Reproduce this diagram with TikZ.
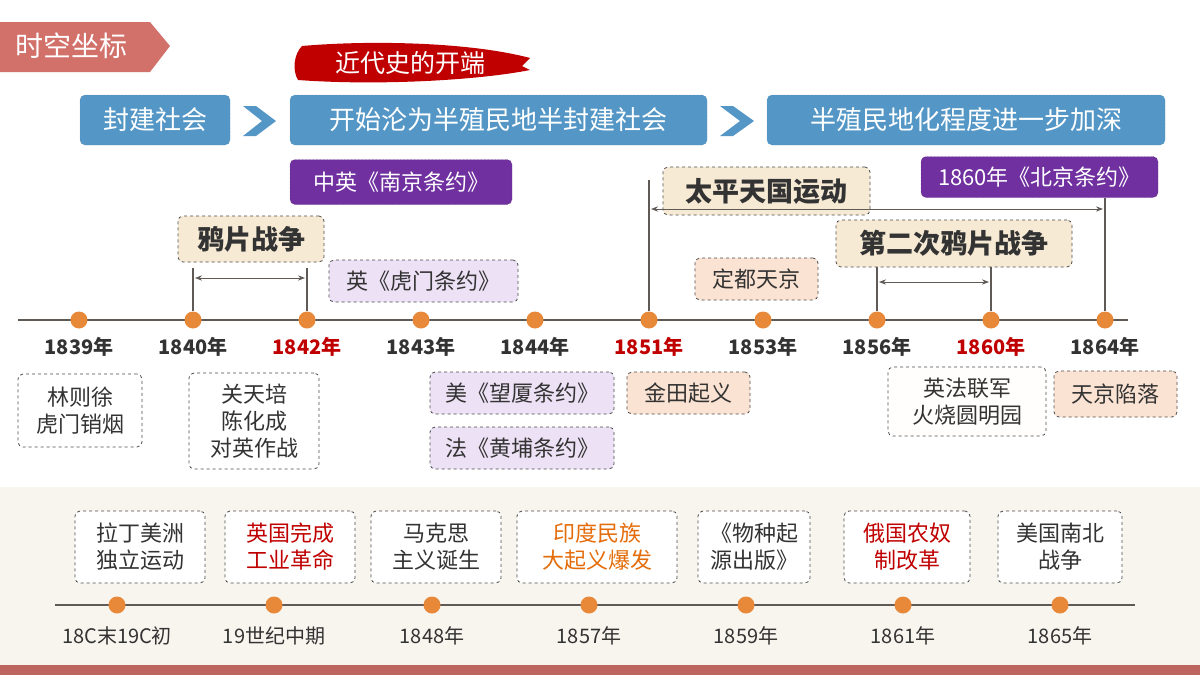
\documentclass[tikz,border=0pt]{standalone}
\usepackage{fontspec}
\setmainfont{Noto Sans CJK SC}
\usetikzlibrary{arrows.meta}
\definecolor{tagred}{HTML}{D2706A}
\definecolor{bblue}{HTML}{5497C6}
\definecolor{purp}{HTML}{7030A0}
\definecolor{cream}{HTML}{F6EAD5}
\definecolor{lav}{HTML}{EDE1F5}
\definecolor{peach}{HTML}{FBE3D3}
\definecolor{dot}{HTML}{E8893A}
\definecolor{lgrey}{HTML}{5F5A55}
\definecolor{txt}{HTML}{333333}
\definecolor{dred}{HTML}{C00000}
\definecolor{oran}{HTML}{E46C0A}
\definecolor{bg}{HTML}{F8F4EE}
\tikzset{
 bx/.style={draw=gray!60!black,dashed,line width=0.8pt,rounded corners=5pt,text=txt,align=center,inner sep=0pt,font=\fontsize{22}{27}\selectfont},
 bluebx/.style={fill=bblue,draw=bblue!80!black,densely dotted,rounded corners=5pt,text=white,inner sep=0pt,font=\fontsize{26}{30}\selectfont},
 purbx/.style={fill=purp,draw=purp!70!black,densely dotted,rounded corners=5pt,text=white,inner sep=0pt,font=\fontsize{22}{26}\selectfont},
 dt/.style={circle,fill=dot,inner sep=0pt,minimum size=17pt},
 yr/.style={font=\fontsize{20}{22}\selectfont\bfseries,text=txt},
 byr/.style={font=\fontsize{20}{22}\selectfont,text=txt},
 vl/.style={draw=lgrey,line width=1.6pt},
 arr/.style={draw=lgrey,line width=1pt,{Stealth[length=7pt]}-{Stealth[length=7pt]}},
 chev/.style={fill=bblue}
}
\begin{document}
\begin{tikzpicture}[x=1pt,y=-1pt]
\useasboundingbox (0,0) rectangle (1200,675);
\fill[white] (0,0) rectangle (1200,675);
\fill[bg] (0,487) rectangle (1200,665);
\fill[tagred!90!black] (0,665) rectangle (1200,675);
% tag
\fill[tagred] (0,22) -- (150,22) -- (170,46) -- (150,72) -- (0,72) -- cycle;
\node[text=white,font=\fontsize{28}{32}\selectfont,anchor=west] (tag) at (12,46) {时空坐标};
% brush
\fill[dred] (302,46) .. controls (370,40) and (470,42) .. (530,58) -- (522,66) -- (530,70) .. controls (480,80) and (380,86) .. (298,80) .. controls (292,70) and (294,54) .. (302,46) -- cycle;
\node[text=white,font=\fontsize{25}{29}\selectfont] (start) at (410,63) {近代史的开端};
% blue boxes
\node[bluebx,minimum width=150pt,minimum height=50pt] (b1) at (155,120) {封建社会};
\node[bluebx,minimum width=417pt,minimum height=50pt] (b2) at (498.5,120) {开始沦为半殖民地半封建社会};
\node[bluebx,minimum width=398pt,minimum height=50pt] (b3) at (966,120) {半殖民地化程度进一步加深};
\fill[chev] (243,106) -- (256,106) -- (276,121) -- (256,136) -- (243,136) -- (262,121) -- cycle;
\fill[chev] (720,106) -- (733,106) -- (754,121) -- (733,136) -- (720,136) -- (740,121) -- cycle;
% purple
\node[purbx,minimum width=222pt,minimum height=45pt] (nj) at (401,182) {中英《南京条约》};
\node[purbx,minimum width=237pt,minimum height=41pt] (bj) at (1039.5,177) {1860年《北京条约》};
% timeline
\coordinate (tl0) at (18,320); \coordinate (tl1) at (1128,320);
\draw[lgrey,line width=2pt] (tl0) -- (tl1);
\foreach \x/\y/\c [count=\i] in {79/1839/txt,193/1840/txt,307/1842/dred,421/1843/txt,535/1844/txt,649/1851/dred,763/1853/txt,877/1856/txt,991/1860/dred,1105/1864/txt}{
 \node[dt] (p\i) at (\x,320) {};
 \node[yr,text=\c] (y\i) at (\x,347) {\y 年};
}
% opium war
\node[bx,fill=cream,minimum width=146pt,minimum height=46pt,font=\fontsize{27}{30}\selectfont\bfseries] (ow) at (251,239) {鸦片战争};
\draw[vl] (p2 |- 0,268) -- (p2.north); \draw[vl] (p3 |- 0,268) -- (p3.north);
\draw[arr] (195,278) -- (305,278);
\node[bx,fill=lav,minimum width=189pt,minimum height=42pt] (hm) at (423.5,281) {英《虎门条约》};
% taiping
\node[bx,fill=cream,minimum width=207pt,minimum height=48pt,font=\fontsize{27}{30}\selectfont\bfseries] (tp) at (766.5,191) {太平天国运动};
\draw[vl] (p6 |- 0,180) -- (p6.north); \draw[vl] (bj.south -| p10) -- (p10.north);
\draw[arr] (651,209) -- (1103,209);
\node[bx,fill=cream,minimum width=236pt,minimum height=47pt,font=\fontsize{27}{30}\selectfont\bfseries] (ow2) at (954,243.5) {第二次鸦片战争};
\draw[vl] (ow2.south -| p8) -- (p8.north); \draw[vl] (ow2.south -| p9) -- (p9.north);
\draw[arr] (879,282) -- (989,282);
\node[bx,fill=peach,minimum width=123pt,minimum height=42pt] (dd) at (756.5,279) {定都天京};
% below boxes
\node[bx,fill=white,minimum width=124pt,minimum height=73pt] (lz) at (80,410.5) {林则徐\\虎门销烟};
\node[bx,fill=white,minimum width=130pt,minimum height=96pt] (gt) at (254,421) {关天培\\陈化成\\对英作战};
\node[bx,fill=lav,minimum width=184pt,minimum height=42pt] (wx) at (522,393) {美《望厦条约》};
\node[bx,fill=lav,minimum width=184pt,minimum height=42pt] (hp) at (522,448) {法《黄埔条约》};
\node[bx,fill=peach,minimum width=123pt,minimum height=42pt] (jt) at (688.5,393) {金田起义};
\node[bx,fill=white!95!peach,minimum width=158pt,minimum height=69pt] (yf) at (967,401.5) {英法联军\\火烧圆明园};
\node[bx,fill=peach,minimum width=123pt,minimum height=46pt] (tj) at (1115.5,394) {天京陷落};
% bottom timeline
\coordinate (bl0) at (55,605); \coordinate (bl1) at (1135,605);
\draw[lgrey,line width=2pt] (bl0) -- (bl1);
\foreach \x/\bxx/\y/\w/\c/\t [count=\i] in {
 117/140/18C末19C初/130/txt/拉丁美洲\\独立运动,
 274/290/19世纪中期/130/dred/英国完成\\工业革命,
 432/436/1848年/130/txt/马克思\\主义诞生,
 589/597/1857年/160/oran/印度民族\\大起义爆发,
 746/754/1859年/112/txt/《物种起\\源出版》,
 903/907/1861年/126/dred/俄国农奴\\制改革,
 1060/1060/1865年/124/txt/美国南北\\战争}{
 \node[dt] (q\i) at (\x,605) {};
 \node[byr] (z\i) at (\x,636) {\y};
 \node[bx,fill=white,text=\c,minimum width=\w pt,minimum height=72pt] (e\i) at (\bxx,547) {\t};
}
\end{tikzpicture}
\end{document}
